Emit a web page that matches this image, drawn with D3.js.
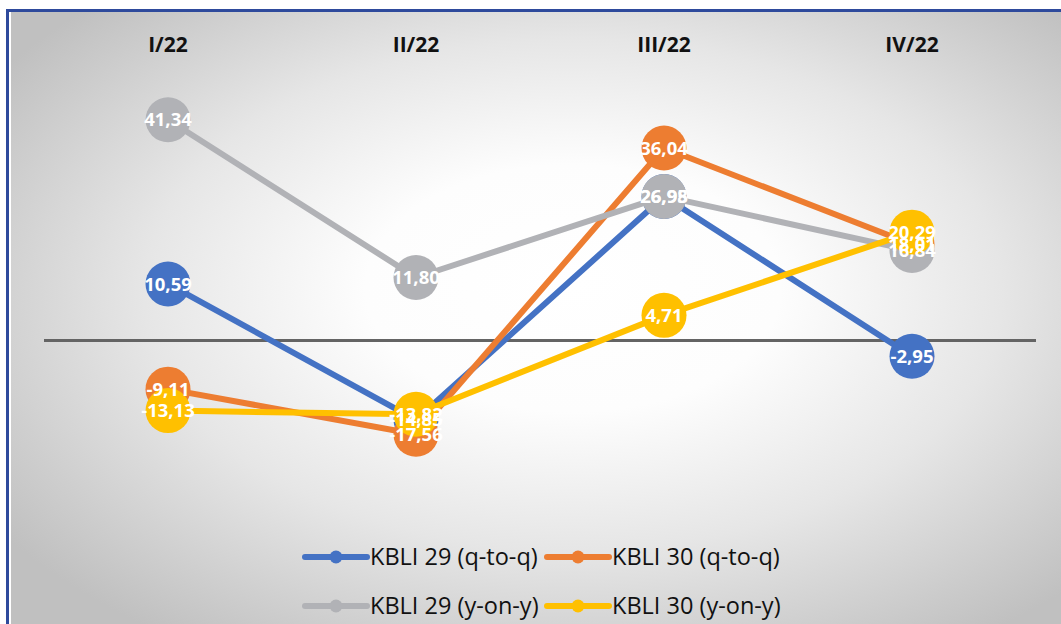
<!DOCTYPE html>
<html>
<head>
<meta charset="utf-8">
<script src="https://cdn.jsdelivr.net/npm/d3@7"></script>
<style>
  html, body { margin: 0; padding: 0; background: #ffffff; }
  svg { display: block; }
</style>
</head>
<body>
<svg id="chart" width="1061" height="624"></svg>
<script>
// Quarters shown along the top
const quarters = ["I/22", "II/22", "III/22", "IV/22"];

// Growth rates (%) per series
const kbli29QtoQ = [10.59, -14.85, 26.95, -2.95];
const kbli30QtoQ = [-9.11, -17.56, 36.04, 18.01];
const kbli29YonY = [41.34, 11.80, 26.98, 16.84];
const kbli30YonY = [-13.13, -13.82, 4.71, 20.29];

const seriesNames = ["KBLI 29 (q-to-q)", "KBLI 30 (q-to-q)", "KBLI 29 (y-on-y)", "KBLI 30 (y-on-y)"];
const seriesColors = ["#4472c4", "#ed7d31", "#b1b2b6", "#ffc000"];

const series = [kbli29QtoQ, kbli30QtoQ, kbli29YonY, kbli30YonY].map((vals, i) => ({
  name: seriesNames[i],
  color: seriesColors[i],
  values: vals
}));

const svg = d3.select("#chart");
const W = 1061, H = 624;

// Background with soft radial shading
const defs = svg.append("defs");
const grad = defs.append("radialGradient")
  .attr("id", "bg")
  .attr("cx", 0.52).attr("cy", 0.45).attr("r", 0.64)
  .attr("fx", 0.52).attr("fy", 0.42);
grad.append("stop").attr("offset", "0%").attr("stop-color", "#ffffff");
grad.append("stop").attr("offset", "30%").attr("stop-color", "#fdfdfd");
grad.append("stop").attr("offset", "62%").attr("stop-color", "#e6e6e6");
grad.append("stop").attr("offset", "100%").attr("stop-color", "#c0c0c0");

svg.append("rect")
  .attr("x", 11).attr("y", 12)
  .attr("width", W + 20).attr("height", H + 20)
  .attr("fill", "url(#bg)");

// Frame edges (left and top)
svg.append("line").attr("x1", 7.5).attr("y1", 9).attr("x2", 7.5).attr("y2", H + 5)
  .attr("stroke", "#2e4a9c").attr("stroke-width", 3);
svg.append("line").attr("x1", 6).attr("y1", 10.5).attr("x2", W + 5).attr("y2", 10.5)
  .attr("stroke", "#2e4a9c").attr("stroke-width", 3);

// Scales
const x = d3.scaleBand().domain(quarters).range([44, 1036]);
const cx = d => x(d) + x.bandwidth() / 2;
const y = d3.scaleLinear().domain([-20, 45]).range([447.3, 100.2]);

// Zero line
svg.append("line")
  .attr("x1", 44).attr("x2", 1036)
  .attr("y1", y(0)).attr("y2", y(0))
  .attr("stroke", "#646464").attr("stroke-width", 3);

// Quarter labels along the top
const topAxis = d3.axisTop(x).tickSize(0).tickPadding(0);
const gTop = svg.append("g").attr("transform", "translate(0,52)").call(topAxis);
gTop.select(".domain").remove();
gTop.selectAll("text")
  .attr("font-family", "'Open Sans', sans-serif")
  .attr("font-weight", "bold")
  .attr("font-size", 21)
  .attr("fill", "#111111");

// Lines and markers, series by series
const line = d3.line().x((d, i) => cx(quarters[i])).y(d => y(d));
const R = 22.5;

series.forEach(s => {
  const g = svg.append("g");
  g.append("path")
    .datum(s.values)
    .attr("d", line)
    .attr("fill", "none")
    .attr("stroke", s.color)
    .attr("stroke-width", 6)
    .attr("stroke-linejoin", "round");
  g.selectAll("circle")
    .data(s.values)
    .join("circle")
    .attr("cx", (d, i) => cx(quarters[i]))
    .attr("cy", d => y(d))
    .attr("r", R)
    .attr("fill", s.color);
});

// Value labels above all marks (comma decimal, plain hyphen minus)
const locale = d3.formatLocale({ decimal: ",", thousands: ".", grouping: [3], currency: ["", ""], minus: "-" });
const fmt = locale.format(".2f");
series.forEach(s => {
  svg.append("g").selectAll("text")
    .data(s.values)
    .join("text")
    .attr("x", (d, i) => cx(quarters[i]))
    .attr("y", d => y(d))
    .attr("dy", "0.36em")
    .attr("text-anchor", "middle")
    .attr("font-family", "'Open Sans', sans-serif")
    .attr("font-weight", "bold")
    .attr("font-size", 18.5)
    .attr("fill", "#ffffff")
    .text(d => fmt(d));
});

// Legend
const legendX = [305, 547];
const legendY = [557, 606];
series.forEach((s, i) => {
  const lx = legendX[i % 2], ly = legendY[Math.floor(i / 2)];
  const g = svg.append("g").attr("transform", `translate(${lx},${ly})`);
  g.append("line").attr("x1", 0).attr("x2", 62).attr("y1", 0).attr("y2", 0)
    .attr("stroke", s.color).attr("stroke-width", 6).attr("stroke-linecap", "round");
  g.append("circle").attr("cx", 31).attr("cy", 0).attr("r", 6.5).attr("fill", s.color);
  g.append("text")
    .attr("x", 65).attr("y", 0).attr("dy", "0.36em")
    .attr("font-family", "'Open Sans', sans-serif")
    .attr("font-size", 23.5)
    .attr("fill", "#111111")
    .text(s.name);
});
</script>
</body>
</html>
